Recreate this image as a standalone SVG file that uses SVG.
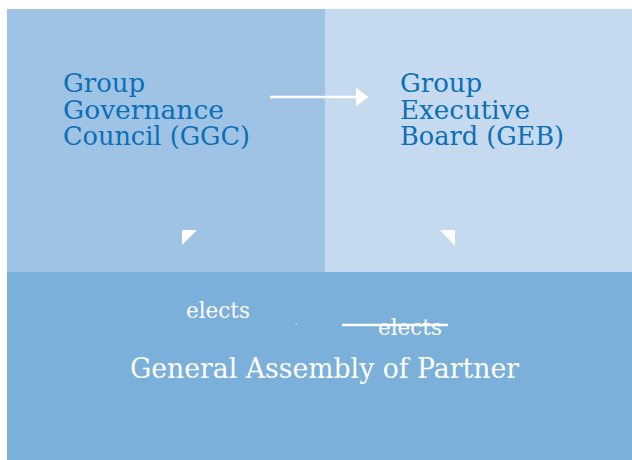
<svg xmlns="http://www.w3.org/2000/svg" width="632" height="460" viewBox="0 0 632 460">
<style>
.t{font-family:"DejaVu Serif","Liberation Serif",serif;}
.blue{fill:#0B6FB8;font-size:26px;}
.white{fill:#FFFFFF;}
</style>
<defs>
<marker id="ah" markerWidth="12" markerHeight="19" refX="12" refY="9.5" orient="auto" markerUnits="userSpaceOnUse">
<path d="M0,0 L12,9.5 L0,19 Z" fill="#FFFFFF"/>
</marker>
</defs>
<rect x="0" y="0" width="632" height="460" fill="#FFFFFF"/>
<g id="ggc">
<rect x="7" y="9" width="318" height="263" fill="#9FC3E5"/>
<text class="t blue" x="63" y="92">Group</text>
<text class="t blue" x="63" y="118.5" textLength="161" lengthAdjust="spacingAndGlyphs">Governance</text>
<text class="t blue" x="63" y="145" textLength="187" lengthAdjust="spacingAndGlyphs">Council (GGC)</text>
</g>
<g id="geb">
<rect x="325" y="9" width="307" height="263" fill="#C5DAEE"/>
<text class="t blue" x="400" y="92">Group</text>
<text class="t blue" x="400" y="118.5" textLength="130" lengthAdjust="spacingAndGlyphs">Executive</text>
<text class="t blue" x="400" y="145" textLength="164" lengthAdjust="spacingAndGlyphs">Board (GEB)</text>
</g>
<g id="assembly">
<rect x="7" y="272" width="625" height="188" fill="#7AB0D9"/>
<text class="t white" x="324.5" y="378" font-size="28" text-anchor="middle" textLength="389" lengthAdjust="spacingAndGlyphs">General Assembly of Partner</text>
</g>
<g id="connectors">
<line x1="270" y1="97" x2="368" y2="97" stroke="#FFFFFF" stroke-width="2.5" marker-end="url(#ah)"/>
<polygon points="182,230 197,230 182,245" fill="#FFFFFF"/>
<polygon points="440,230 455,230 455,246" fill="#FFFFFF"/>
<text class="t white" x="186" y="318" font-size="22" textLength="64" lengthAdjust="spacingAndGlyphs">elects</text>
<rect x="295.5" y="323.5" width="1.2" height="1.2" fill="#FFFFFF"/>
<text class="t white" x="378" y="335" font-size="22" textLength="64" lengthAdjust="spacingAndGlyphs">elects</text>
<line x1="342" y1="325" x2="448" y2="325" stroke="#FFFFFF" stroke-width="2.5"/>
</g>
</svg>
